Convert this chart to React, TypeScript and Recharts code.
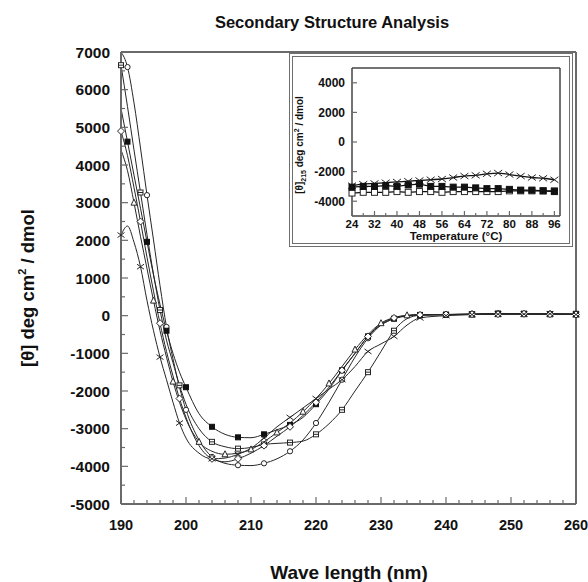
import { Line, LineChart, ReferenceLine, XAxis, YAxis } from 'recharts';

const FONT = '"Liberation Sans", Arial, Helvetica, sans-serif';
const AXIS = '#6a6a6a';
const INK = '#262626';

// main chart: wavelength (nm) vs mean residue ellipticity
const wavelengths = [190, 191, 192, 193, 194, 195, 196, 197, 198, 199, 200, 202, 204, 206, 208, 210, 212, 214, 216, 218, 220, 222, 224, 226, 228, 230, 232, 234, 236, 240, 244, 248, 252, 256, 260];
const circleCurve = [7000, 6600, 5650, 4450, 3200, 2010, 800, -300, -1150, -1900, -2500, -3300, -3750, -3920, -3970, -3980, -3920, -3800, -3600, -3300, -2850, -2300, -1700, -1100, -600, -250, -80, -10, 20, 30, 40, 50, 50, 40, 40];
const barBoxCurve = [6650, 5550, 4400, 3270, 2150, 1100, 150, -650, -1250, -1850, -2350, -3000, -3350, -3480, -3530, -3500, -3420, -3390, -3370, -3330, -3150, -2870, -2500, -2000, -1500, -950, -400, -80, 10, 30, 40, 60, 50, 40, 50];
const filledBoxCurve = [5500, 4620, 3730, 2850, 1960, 1080, 300, -400, -1000, -1500, -1900, -2600, -2950, -3150, -3230, -3240, -3150, -3030, -2900, -2700, -2350, -1950, -1450, -1000, -550, -250, -80, 0, 20, 20, 30, 40, 50, 40, 30];
const triangleCurve = [4400, 3850, 3000, 2100, 1250, 400, -400, -1100, -1750, -2300, -2750, -3350, -3600, -3680, -3650, -3550, -3350, -3100, -2850, -2550, -2200, -1800, -1350, -900, -500, -200, -50, 10, 30, 30, 40, 50, 40, 50, 40];
const diamondCurve = [4900, 4250, 3400, 2500, 1550, 650, -200, -950, -1600, -2200, -2700, -3450, -3800, -3880, -3800, -3650, -3450, -3200, -2950, -2650, -2300, -1900, -1450, -1000, -550, -220, -60, 0, 20, 30, 40, 40, 50, 40, 30];
const crossCurve = [2140, 2380, 1950, 1300, 400, -400, -1100, -1700, -2300, -2850, -3250, -3650, -3800, -3780, -3680, -3520, -3250, -2950, -2700, -2450, -2200, -1950, -1700, -1350, -950, -750, -550, -250, -60, 0, 30, 40, 40, 50, 30];

const xTicks = [190, 192, 194, 196, 198, 200, 202, 204, 206, 208, 210, 212, 214, 216, 218, 220, 222, 224, 226, 228, 230, 232, 234, 236, 238, 240, 242, 244, 246, 248, 250, 252, 254, 256, 258, 260];
const yTicks = [-5000, -4500, -4000, -3500, -3000, -2500, -2000, -1500, -1000, -500, 0, 500, 1000, 1500, 2000, 2500, 3000, 3500, 4000, 4500, 5000, 5500, 6000, 6500, 7000];

// inset: ellipticity at 215 nm vs temperature
const temperatures = [24, 28, 32, 36, 40, 44, 48, 52, 56, 60, 64, 68, 72, 76, 80, 84, 88, 92, 96];
const insetCross = [-2950, -2850, -2800, -2750, -2700, -2650, -2600, -2550, -2500, -2400, -2300, -2250, -2150, -2100, -2200, -2300, -2400, -2450, -2550];
const insetFilled = [-3050, -3000, -3000, -2950, -3000, -2900, -2850, -3000, -3000, -3050, -3050, -3100, -3150, -3150, -3200, -3250, -3250, -3300, -3350];
const insetOpen = [-3450, -3400, -3400, -3400, -3350, -3400, -3350, -3350, -3400, -3350, -3350, -3350, -3350, -3350, -3300, -3300, -3300, -3300, -3300];
const insetXTicks = [24, 28, 32, 36, 40, 44, 48, 52, 56, 60, 64, 68, 72, 76, 80, 84, 88, 92, 96];
const insetYTicks = [-4000, -2000, 0, 2000, 4000];

const mainData = wavelengths.map((wl, i) => ({
  wl,
  a: circleCurve[i],
  b: barBoxCurve[i],
  c: filledBoxCurve[i],
  d: triangleCurve[i],
  e: diamondCurve[i],
  f: crossCurve[i],
}));

const insetData = temperatures.map((t, i) => ({
  t,
  x: insetCross[i],
  f: insetFilled[i],
  o: insetOpen[i],
}));

const drawMarker = (shape: string, cx: number, cy: number, key: string, s: number) => {
  const h = s / 2;
  switch (shape) {
    case 'circle':
      return <circle key={key} cx={cx} cy={cy} r={h * 1.05} fill="#fff" stroke={INK} strokeWidth={1} />;
    case 'barbox':
      return (
        <g key={key}>
          <rect x={cx - h} y={cy - h} width={s} height={s} fill="#fff" stroke={INK} strokeWidth={1} />
          <line x1={cx - h} x2={cx + h} y1={cy} y2={cy} stroke={INK} strokeWidth={1} />
        </g>
      );
    case 'filled':
      return <rect key={key} x={cx - h} y={cy - h} width={s} height={s} fill="#111" stroke="#111" />;
    case 'box':
      return <rect key={key} x={cx - h} y={cy - h} width={s} height={s} fill="#fff" stroke={INK} strokeWidth={1} />;
    case 'triangle':
      return <polygon key={key} points={`${cx},${cy - h - 1} ${cx + h + 0.5},${cy + h} ${cx - h - 0.5},${cy + h}`} fill="#fff" stroke={INK} strokeWidth={1} />;
    case 'diamond':
      return <polygon key={key} points={`${cx},${cy - h - 1} ${cx + h + 1},${cy} ${cx},${cy + h + 1} ${cx - h - 1},${cy}`} fill="#fff" stroke={INK} strokeWidth={1} />;
    default:
      return (
        <g key={key}>
          <line x1={cx - h - 1} x2={cx + h + 1} y1={cy - h} y2={cy + h} stroke={INK} strokeWidth={1} />
          <line x1={cx - h - 1} x2={cx + h + 1} y1={cy + h} y2={cy - h} stroke={INK} strokeWidth={1} />
        </g>
      );
  }
};

// markers are sparser than the data points, like the original plot
const mainDot = (shape: string, offset: number) => (p: any) => {
  const { cx, cy, index, payload } = p;
  const key = `${shape}-${index}`;
  if (cx == null || cy == null) return <g key={key} />;
  const step = payload.wl <= 200 ? 3 : payload.wl <= 236 ? 2 : 1;
  if ((index + offset) % step !== 0) return <g key={key} />;
  return drawMarker(shape, cx, cy, key, 5);
};

const insetDot = (shape: string) => (p: any) => {
  const { cx, cy, index } = p;
  const key = `in-${shape}-${index}`;
  if (cx == null || cy == null) return <g key={key} />;
  return drawMarker(shape, cx, cy, key, 6);
};

const bottomTick = (p: any, cfg: { major: (v: number) => boolean; len: number; minor: number; size: number; dy: number }) => {
  const { x, y, payload } = p;
  const isMajor = cfg.major(payload.value);
  return (
    <g key={`bt-${payload.value}`}>
      <line x1={x} x2={x} y1={y} y2={y - (isMajor ? cfg.len : cfg.minor)} stroke={AXIS} strokeWidth={1.2} />
      {isMajor && (
        <text x={x} y={y + cfg.dy} textAnchor="middle" fontFamily={FONT} fontWeight="bold" fontSize={cfg.size} fill="#111">
          {payload.value}
        </text>
      )}
    </g>
  );
};

const leftTick = (p: any, cfg: { major: (v: number) => boolean; len: number; minor: number; size: number; gap: number }) => {
  const { x, y, payload } = p;
  const isMajor = cfg.major(payload.value);
  return (
    <g key={`lt-${payload.value}`}>
      <line x1={x} x2={x + (isMajor ? cfg.len : cfg.minor)} y1={y} y2={y} stroke={AXIS} strokeWidth={1.2} />
      {isMajor && (
        <text x={x - cfg.gap} y={y + cfg.size * 0.36} textAnchor="end" fontFamily={FONT} fontWeight="bold" fontSize={cfg.size} fill="#111">
          {payload.value}
        </text>
      )}
    </g>
  );
};

const series = [
  { key: 'a', shape: 'circle', offset: 2 },
  { key: 'b', shape: 'barbox', offset: 0 },
  { key: 'c', shape: 'filled', offset: 2 },
  { key: 'd', shape: 'triangle', offset: 1 },
  { key: 'e', shape: 'diamond', offset: 0 },
  { key: 'f', shape: 'cross', offset: 0 },
];

const App = () => {
  return (
    <div style={{ position: 'absolute', left: 0, top: 0, width: 588, height: 582, background: '#fff' }}>
      <LineChart width={588} height={582} data={mainData} margin={{ top: 52, right: 12, bottom: 48, left: 61 }}>
        <XAxis
          dataKey="wl"
          type="number"
          domain={[190, 260]}
          ticks={xTicks}
          interval={0}
          height={30}
          tickSize={0}
          tickMargin={0}
          tickLine={false}
          axisLine={{ stroke: AXIS, strokeWidth: 2 }}
          tick={(p: any) => bottomTick(p, { major: (v) => v % 10 === 0, len: 7, minor: 4, size: 14.5, dy: 26 })}
        />
        <YAxis
          type="number"
          domain={[-5000, 7000]}
          ticks={yTicks}
          interval={0}
          width={60}
          tickSize={0}
          tickMargin={0}
          tickLine={false}
          allowDataOverflow
          axisLine={{ stroke: AXIS, strokeWidth: 2 }}
          tick={(p: any) => leftTick(p, { major: (v) => v % 1000 === 0, len: 7, minor: 4, size: 15.5, gap: 11 })}
        />
        <ReferenceLine y={7000} stroke={AXIS} strokeWidth={2} />
        <ReferenceLine x={260} stroke={AXIS} strokeWidth={2} />
        {series.map((s) => (
          <Line
            key={s.key}
            dataKey={s.key}
            type="monotone"
            stroke={INK}
            strokeWidth={1}
            dot={mainDot(s.shape, s.offset)}
            activeDot={false}
            isAnimationActive={false}
          />
        ))}
      </LineChart>

      <div
        style={{
          position: 'absolute',
          left: 289,
          top: 53,
          width: 284,
          height: 194,
          boxSizing: 'border-box',
          border: '4px double #6f6f6f',
          background: '#fff',
        }}
      />
      <div style={{ position: 'absolute', left: 289, top: 53 }}>
        <LineChart width={284} height={194} data={insetData} margin={{ top: 15, right: 13, bottom: 11, left: 23 }}>
          <XAxis
            dataKey="t"
            type="number"
            domain={[24, 98]}
            ticks={insetXTicks}
            interval={0}
            height={20}
            tickSize={0}
            tickMargin={0}
            tickLine={false}
            axisLine={{ stroke: '#444', strokeWidth: 1.5 }}
            tick={(p: any) => bottomTick(p, { major: (v) => (v - 24) % 8 === 0, len: 5, minor: 3, size: 11.5, dy: 12 })}
          />
          <YAxis
            type="number"
            domain={[-5000, 5000]}
            ticks={insetYTicks}
            interval={0}
            width={40}
            tickSize={0}
            tickMargin={0}
            tickLine={false}
            axisLine={{ stroke: '#444', strokeWidth: 1.5 }}
            tick={(p: any) => leftTick(p, { major: () => true, len: 5, minor: 3, size: 12, gap: 7 })}
          />
          <ReferenceLine y={5000} stroke="#444" strokeWidth={1.5} />
          <ReferenceLine x={98} stroke="#444" strokeWidth={1.5} />
          <Line dataKey="x" type="monotone" stroke="#111" strokeWidth={1.3} dot={insetDot('cross')} activeDot={false} isAnimationActive={false} />
          <Line dataKey="o" type="linear" stroke="#111" strokeWidth={1.3} dot={insetDot('box')} activeDot={false} isAnimationActive={false} />
          <Line dataKey="f" type="linear" stroke="#111" strokeWidth={1.3} dot={insetDot('filled')} activeDot={false} isAnimationActive={false} />
        </LineChart>
      </div>

      <svg width={588} height={582} style={{ position: 'absolute', left: 0, top: 0, pointerEvents: 'none' }}>
        <g fontFamily={FONT} fontWeight="bold" fill="#111">
          <text x={332} y={28} textAnchor="middle" fontSize={16.5}>Secondary Structure Analysis</text>
          <text x={349} y={579} textAnchor="middle" fontSize={19}>Wave length (nm)</text>
          <text transform="translate(34,288) rotate(-90)" textAnchor="middle" fontSize={18.5}>
            [θ] deg cm<tspan dy={-8} fontSize={11}>2</tspan><tspan dy={8}> / dmol</tspan>
          </text>
          <text transform="translate(303,145) rotate(-90)" textAnchor="middle" fontSize={10}>
            [θ]<tspan dy={3} fontSize={7}>215</tspan><tspan dy={-3}> deg cm</tspan><tspan dy={-4} fontSize={7}>2</tspan><tspan dy={4}> / dmol</tspan>
          </text>
          <text x={456} y={240} textAnchor="middle" fontSize={11.5}>Temperature (°C)</text>
        </g>
      </svg>
    </div>
  );
};

export default App;
